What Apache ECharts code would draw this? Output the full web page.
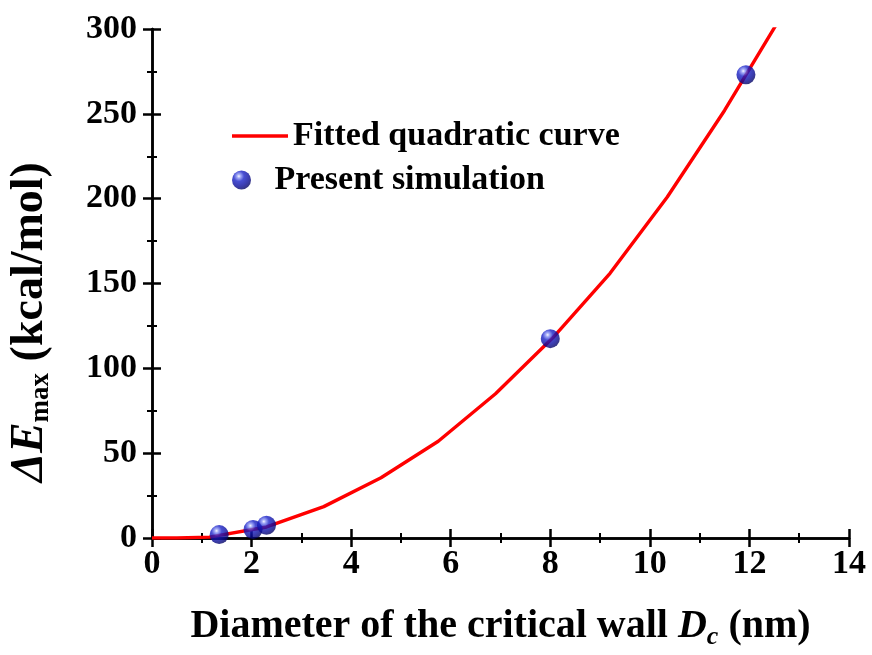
<!DOCTYPE html>
<html>
<head>
<meta charset="utf-8">
<script src="https://cdn.jsdelivr.net/npm/echarts@6/dist/echarts.min.js"></script>
<style>
  html, body { margin: 0; padding: 0; background: #fff; }
  #chart { width: 872px; height: 655px; }
</style>
</head>
<body>
<div id="chart"></div>
<script>
// Fitted quadratic curve, sampled along the diameter axis (nm, kcal/mol)
const curveX = [0, 0.5, 1.15, 2.3, 3.45, 4.6, 5.75, 6.9, 8.05, 9.2, 10.35, 11.5, 12.65];
const curveY = [0, 0, 0.5, 6.5, 18.5, 35.5, 57, 85, 118, 156, 201, 252, 308];

// Simulated barrier heights
const simX = [1.35, 2.03, 2.3, 8.0, 11.93];
const simY = [2, 5, 7.5, 117.5, 273];

const xTicks = [0, 2, 4, 6, 8, 10, 12, 14];
const yTicks = [0, 50, 100, 150, 200, 250, 300];

const seriesNames = ['Fitted quadratic curve', 'Present simulation'];

const FONT = '"Liberation Serif", "Times New Roman", serif';

const chart = echarts.init(document.getElementById('chart'), null, { renderer: 'canvas' });

// shaded ball used for the simulation markers
const sphere = new echarts.graphic.RadialGradient(0.36, 0.3, 0.72, [
  { offset: 0, color: '#f4f6ff' },
  { offset: 0.14, color: '#8a94f4' },
  { offset: 0.38, color: '#1a22c8' },
  { offset: 0.75, color: '#0a0c9a' },
  { offset: 1, color: '#040464' }
]);

const axisLine = { show: true, lineStyle: { color: '#000', width: 2.5 } };
const majorTick = { show: true, inside: true, length: 9, lineStyle: { color: '#000', width: 2.5 } };
const minorTick = { show: true, splitNumber: 2, length: 5, lineStyle: { color: '#000', width: 2 } };

const xMin = xTicks[0], xMax = xTicks[xTicks.length - 1];
const yMin = yTicks[0], yMax = yTicks[yTicks.length - 1];

const legendText = { fontFamily: FONT, fontWeight: 'bold', fontSize: 34, color: '#000' };

chart.setOption({
  animation: false,
  backgroundColor: '#fff',
  grid: { left: 152, right: 23, top: 29, bottom: 114, containLabel: false },
  legend: [
    {
      data: [{ name: seriesNames[0], icon: 'rect' }],
      left: 227, top: 114,
      itemWidth: 56, itemHeight: 3.5,
      textStyle: legendText
    },
    {
      data: [seriesNames[1]],
      left: 227, top: 158,
      itemWidth: 56, itemHeight: 19,
      itemStyle: { color: sphere },
      textStyle: legendText
    }
  ],
  graphic: [
    {
      // vertical axis title
      type: 'text',
      x: 30, y: 322, rotation: Math.PI / 2,
      style: {
        text: '{i|ΔE}{s|max}{t| (kcal/mol)}',
        align: 'center', verticalAlign: 'middle',
        rich: {
          t: { fontFamily: FONT, fontWeight: 'bold', fontSize: 46, fill: '#000' },
          i: { fontFamily: FONT, fontWeight: 'bold', fontStyle: 'italic', fontSize: 46, fill: '#000' },
          s: { fontFamily: FONT, fontWeight: 'bold', fontSize: 27, fill: '#000', verticalAlign: 'bottom', padding: [22, 0, 0, 0] }
        }
      }
    }
  ],
  xAxis: [
    {
      type: 'value', position: 'bottom', min: xMin, max: xMax, interval: 2,
      axisLine: axisLine, axisTick: majorTick, minorTick: minorTick,
      splitLine: { show: false },
      axisLabel: {
        margin: 9, color: '#000', fontFamily: FONT, fontWeight: 'bold', fontSize: 34,
        formatter: v => xTicks.includes(v) ? String(v) : ''
      },
      name: '{t|Diameter of the critical wall }{i|D}{s|c}{t| (nm)}',
      nameLocation: 'middle', nameGap: 66,
      nameTextStyle: {
        rich: {
          t: { fontFamily: FONT, fontWeight: 'bold', fontSize: 40, color: '#000' },
          i: { fontFamily: FONT, fontWeight: 'bold', fontStyle: 'italic', fontSize: 40, color: '#000' },
          s: { fontFamily: FONT, fontWeight: 'bold', fontStyle: 'italic', fontSize: 26, color: '#000', verticalAlign: 'bottom', padding: [20, 0, 0, 0] }
        }
      }
    },
    {
      type: 'value', position: 'top', min: xMin, max: xMax, interval: 2,
      axisLine: axisLine, axisTick: majorTick, minorTick: minorTick,
      splitLine: { show: false }, axisLabel: { show: false }
    }
  ],
  yAxis: [
    {
      type: 'value', position: 'left', min: yMin, max: yMax, interval: 50,
      axisLine: axisLine, axisTick: majorTick, minorTick: minorTick,
      splitLine: { show: false },
      axisLabel: {
        margin: 15, color: '#000', fontFamily: FONT, fontWeight: 'bold', fontSize: 34,
        formatter: v => yTicks.includes(v) ? String(v) : ''
      }
    },
    {
      type: 'value', position: 'right', min: yMin, max: yMax, interval: 50,
      axisLine: axisLine, axisTick: majorTick, minorTick: minorTick,
      splitLine: { show: false }, axisLabel: { show: false }
    }
  ],
  series: [
    {
      name: seriesNames[0], type: 'line',
      data: curveX.map((x, i) => [x, curveY[i]]),
      showSymbol: false, symbol: 'none', smooth: false, clip: true,
      lineStyle: { color: '#ff0000', width: 3.4 },
      itemStyle: { color: '#ff0000' },
      z: 2
    },
    {
      name: seriesNames[1], type: 'scatter',
      data: simX.map((x, i) => [x, simY[i]]),
      symbol: 'circle', symbolSize: 19,
      itemStyle: { color: sphere },
      z: 3
    }
  ]
});
</script>
</body>
</html>
